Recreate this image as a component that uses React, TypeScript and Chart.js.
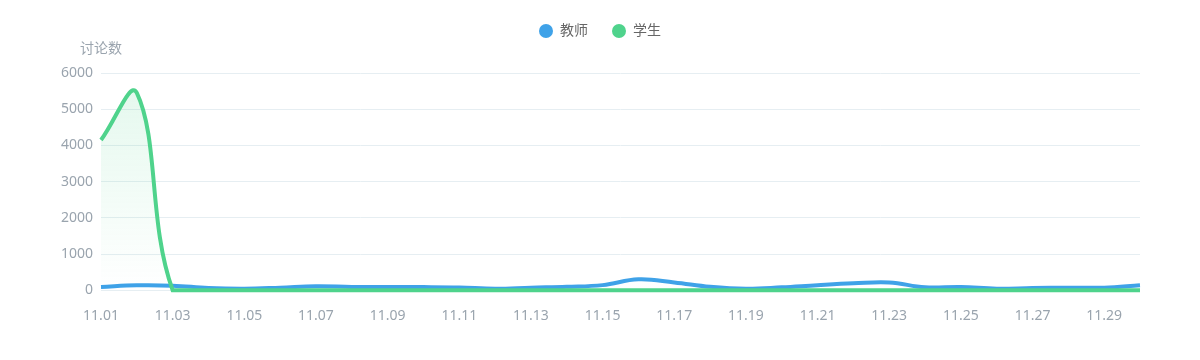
import React, { useEffect, useRef } from "react";
import { Chart, registerables } from "chart.js";

Chart.register(...registerables);

const categories = [
  "11.01", "11.02", "11.03", "11.04", "11.05", "11.06", "11.07", "11.08", "11.09", "11.10",
  "11.11", "11.12", "11.13", "11.14", "11.15", "11.16", "11.17", "11.18", "11.19", "11.20",
  "11.21", "11.22", "11.23", "11.24", "11.25", "11.26", "11.27", "11.28", "11.29", "11.30",
];
const teacherValues = [
  90, 135, 125, 60, 40, 70, 110, 90, 85, 85,
  75, 40, 70, 95, 140, 300, 215, 95, 40, 80,
  140, 190, 215, 80, 90, 40, 60, 70, 70, 140,
];
const studentValues = [
  4150, 5450, 0, 0, 0, 0, 0, 0, 0, 0,
  0, 0, 0, 0, 0, 0, 0, 0, 0, 0,
  0, 0, 0, 0, 0, 0, 0, 0, 0, 0,
];
const seriesNames = ["教师", "学生"];
const yAxisTitle = "讨论数";
const yMin = 0;
const yMax = 6000;
const yStep = 1000;

const BLUE = "#3fa2e8";
const GREEN = "#4fd38c";
const FONT = "'Noto Sans', 'Noto Sans CJK SC', sans-serif";

function gradient(chart: any, rgb: string) {
  const area = chart.chartArea;
  if (!area) return `rgba(${rgb},0.1)`;
  const g = chart.ctx.createLinearGradient(0, area.top, 0, area.bottom);
  g.addColorStop(0, `rgba(${rgb},0.16)`);
  g.addColorStop(1, `rgba(${rgb},0.0)`);
  return g;
}

const yTitlePlugin = {
  id: "yTitle",
  afterDraw(chart: any) {
    const { ctx, chartArea } = chart;
    ctx.save();
    ctx.font = `14px ${FONT}`;
    ctx.fillStyle = "#9aa4ae";
    ctx.textAlign = "center";
    ctx.textBaseline = "middle";
    ctx.fillText(yAxisTitle, chartArea.left, 49);
    ctx.restore();
  },
};

const legendSpacePlugin = {
  id: "legendSpace",
  beforeLayout(chart: any) {
    const lg = chart.legend;
    if (lg && !lg.__patched) {
      const orig = lg.fit;
      lg.fit = function () {
        orig.call(this);
        this.height += 25;
      };
      lg.__patched = true;
    }
  },
};

export default function App() {
  const ref = useRef<HTMLCanvasElement | null>(null);
  useEffect(() => {
    if (!ref.current) return;
    const chart = new Chart(ref.current, {
      type: "line",
      data: {
        labels: categories,
        datasets: [
          {
            label: seriesNames[0],
            data: teacherValues,
            borderColor: BLUE,
            backgroundColor: (c: any) => gradient(c.chart, "63,162,232"),
            fill: "origin",
            borderWidth: 4,
            pointRadius: 0,
            pointHoverRadius: 0,
            tension: 0.4,
            clip: 4,
            order: 1,
          },
          {
            label: seriesNames[1],
            data: studentValues,
            borderColor: GREEN,
            backgroundColor: (c: any) => gradient(c.chart, "79,211,140"),
            fill: "origin",
            borderWidth: 4,
            pointRadius: 0,
            pointHoverRadius: 0,
            tension: 0.4,
            clip: 4,
            order: 0,
          },
        ],
      },
      options: {
        responsive: false,
        animation: false,
        layout: { padding: { left: 60, right: 60, top: 0, bottom: 19 } },
        plugins: {
          tooltip: { enabled: false },
          legend: {
            position: "top",
            labels: {
              usePointStyle: true,
              pointStyle: "circle",
              pointStyleWidth: 14,
              boxHeight: 10,
              padding: 24,
              color: "#666",
              font: { size: 14, family: FONT },
              generateLabels: (chart: any) =>
                chart.data.datasets.map((ds: any, i: number) => ({
                  text: ds.label,
                  fillStyle: ds.borderColor,
                  strokeStyle: ds.borderColor,
                  lineWidth: 0,
                  pointStyle: "circle",
                  datasetIndex: i,
                  hidden: false,
                  fontColor: "#666",
                })),
            },
          },
        },
        scales: {
          x: {
            grid: { display: false, drawTicks: false },
            border: { display: false },
            ticks: {
              autoSkip: false,
              maxRotation: 0,
              padding: 17,
              color: "#9aa4ae",
              font: { size: 14, family: FONT },
              callback: (_v: any, i: number) => (i % 2 === 0 ? categories[i] : ""),
            },
          },
          y: {
            min: yMin,
            max: yMax,
            afterFit: (scale: any) => {
              scale.width = 41;
            },
            grid: { color: "#e6eef2", drawTicks: false, lineWidth: 1 },
            border: { display: false },
            ticks: {
              stepSize: yStep,
              padding: 8,
              color: "#9aa4ae",
              font: { size: 14, family: FONT },
              callback: (v: any) => String(v),
            },
          },
        },
      },
      plugins: [yTitlePlugin, legendSpacePlugin],
    });
    return () => chart.destroy();
  }, []);
  return (
    <div style={{ position: "fixed", left: 0, top: 0, width: 1200, height: 360 }}>
      <canvas ref={ref} width={1200} height={360} />
    </div>
  );
}
